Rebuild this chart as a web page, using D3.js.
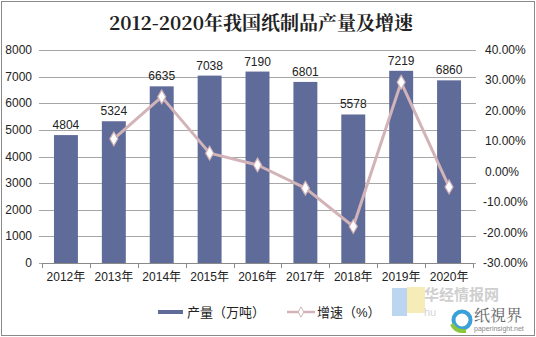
<!DOCTYPE html>
<html><head><meta charset="utf-8">
<script src="https://cdn.jsdelivr.net/npm/d3@7"></script>
<style>
html,body{margin:0;padding:0;background:#fff;}
svg{display:block;}
</style></head>
<body>
<svg id="chart" width="536" height="337"></svg>
<script>
const years = ["2012年","2013年","2014年","2015年","2016年","2017年","2018年","2019年","2020年"];
const output = [4804, 5324, 6635, 7038, 7190, 6801, 5578, 7219, 6860];
const growth = [null, 10.8, 24.6, 6.1, 2.2, -5.4, -18.0, 29.4, -5.0];
const leftTicks = [0,1000,2000,3000,4000,5000,6000,7000,8000];
const rightTicks = [-30,-20,-10,0,10,20,30,40];

const svg = d3.select("#chart");
const W = 536, H = 337;
const m = {l: 42, r: 473, t: 50, b: 263};
const font = "Arial, 'Liberation Sans', 'Noto Sans CJK SC', sans-serif";
const barColor = "#5f6b99", lineColor = "#d2b3b8";

// outer frame
svg.append("rect").attr("x",1.5).attr("y",1.5).attr("width",W-3).attr("height",H-3)
  .attr("fill","#fff").attr("stroke","#8a8a8a").attr("stroke-width",1);

svg.append("text").attr("x",261).attr("y",30).attr("text-anchor","middle")
  .attr("font-family","'Noto Serif CJK SC','Liberation Serif','Noto Sans CJK SC',serif").attr("font-weight","bold")
  .attr("font-size",19).attr("fill","#222").text("2012-2020年我国纸制品产量及增速");

const x = d3.scaleBand().domain(years).range([m.l, m.r]).paddingInner(0.5).paddingOuter(0.25);
const y = d3.scaleLinear().domain([0,8000]).range([m.b, m.t]);
const y2 = d3.scaleLinear().domain([-30,40]).range([m.b, m.t]);
const cx = d => x(d) + x.bandwidth()/2;

// gridlines
svg.append("g").selectAll("line").data(leftTicks).join("line")
  .attr("x1", m.l - 3).attr("x2", m.r + 3)
  .attr("y1", d => Math.round(y(d)) + 0.5).attr("y2", d => Math.round(y(d)) + 0.5)
  .attr("stroke", "#a6a6a6").attr("stroke-width", 1);

// left axis labels
svg.append("g").selectAll("text").data(leftTicks).join("text")
  .attr("x", 32).attr("y", d => y(d) + 4).attr("text-anchor","end")
  .attr("font-family", font).attr("font-size", 12).attr("fill","#222").text(d => d);

// right axis labels
svg.append("g").selectAll("text").data(rightTicks).join("text")
  .attr("x", d => d < 0 ? 483 : 485).attr("y", d => y2(d) + 4).attr("text-anchor","start")
  .attr("font-family", font).attr("font-size", 12).attr("fill","#222").text(d => d.toFixed(2) + "%");

// bars
svg.append("g").selectAll("rect").data(output).join("rect")
  .attr("x", (d,i) => x(years[i])).attr("width", x.bandwidth())
  .attr("y", d => y(d)).attr("height", d => y(0) - y(d)).attr("fill", barColor);

// value labels
svg.append("g").selectAll("text").data(output).join("text")
  .attr("x", (d,i) => cx(years[i])).attr("y", d => y(d) - 6)
  .attr("text-anchor","middle").attr("font-family", font).attr("font-size", 12).attr("fill","#222").text(d => d);

// bottom axis
const bounds = d3.range(years.length + 1).map(i => m.l + (m.r - m.l) * i / years.length);
svg.append("line").attr("x1", m.l).attr("x2", m.r).attr("y1", m.b + 0.5).attr("y2", m.b + 0.5).attr("stroke","#8a8a8a");
svg.append("g").selectAll("line").data(bounds).join("line")
  .attr("x1", d => Math.round(d) + 0.5).attr("x2", d => Math.round(d) + 0.5)
  .attr("y1", m.b).attr("y2", m.b + 5).attr("stroke","#8a8a8a");
svg.append("g").selectAll("text").data(years).join("text")
  .attr("x", d => cx(d)).attr("y", 281).attr("text-anchor","middle")
  .attr("font-family", font).attr("font-size", 12).attr("fill","#222").text(d => d);

// growth line
const pts = growth.map((g,i) => ({g, i})).filter(p => p.g !== null);
const line = d3.line().x(p => cx(years[p.i])).y(p => y2(p.g));
svg.append("path").datum(pts).attr("d", line).attr("fill","none")
  .attr("stroke", lineColor).attr("stroke-width",3).attr("stroke-linejoin","round");
const diamond = d3.symbol().type(d3.symbolDiamond).size(55);
svg.append("g").selectAll("path").data(pts).join("path")
  .attr("d", diamond)
  .attr("transform", p => `translate(${cx(years[p.i])},${y2(p.g)})`)
  .attr("fill","#fff").attr("stroke", lineColor).attr("stroke-width",1.2);

// site mark (drawn beneath the legend)
const mk = svg.append("g");
mk.append("rect").attr("x",392).attr("y",288).attr("width",15).attr("height",28).attr("fill","#bcd6f2");
mk.append("rect").attr("x",407).attr("y",287).attr("width",18).attr("height",26).attr("fill","#f6ecb8");
mk.append("text").attr("x",424).attr("y",300).attr("font-family","'Noto Sans CJK SC',sans-serif")
  .attr("font-size",15).attr("font-weight","bold").attr("fill","#cfcfcf").text("华经情报网");
mk.append("text").attr("x",424).attr("y",316).attr("font-family", font)
  .attr("font-size",11).attr("fill","#d6d6d6").text("hu");
mk.append("circle").attr("cx",462).attr("cy",320).attr("r",8.5).attr("fill","none")
  .attr("stroke","#3aa0d8").attr("stroke-width",4);
mk.append("path").attr("d","M452,324 Q455,332 466,331").attr("fill","none").attr("stroke","#8cc63f").attr("stroke-width",4);
mk.append("text").attr("x",474).attr("y",321).attr("font-family","'Noto Serif CJK SC','Noto Sans CJK SC',serif")
  .attr("font-size",16).attr("fill","#666").text("纸視界");
mk.append("text").attr("x",474).attr("y",331).attr("font-family", font)
  .attr("font-size",7).attr("fill","#888").text("paperinsight.net");

// legend
const lg = svg.append("g");
lg.append("rect").attr("x",158).attr("y",310).attr("width",25).attr("height",4).attr("fill", barColor);
lg.append("text").attr("x",187).attr("y",317).attr("font-family", font).attr("font-size",13).attr("fill","#222").text("产量（万吨）");
lg.append("line").attr("x1",287).attr("x2",315).attr("y1",312).attr("y2",312).attr("stroke", lineColor).attr("stroke-width",2.5);
lg.append("path").attr("d", d3.symbol().type(d3.symbolDiamond).size(30))
  .attr("transform","translate(301,312)").attr("fill","#fff").attr("stroke", lineColor);
lg.append("text").attr("x",317).attr("y",317).attr("font-family", font).attr("font-size",13).attr("fill","#222").text("增速（%）");
</script>
</body></html>
